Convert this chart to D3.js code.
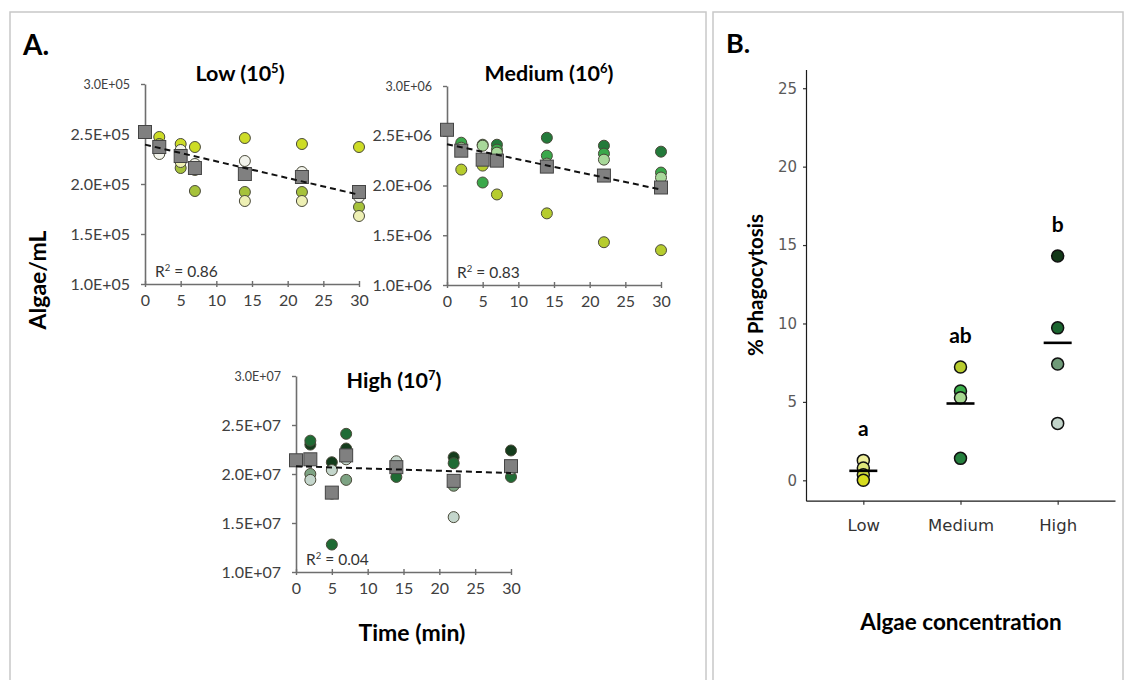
<!DOCTYPE html>
<html>
<head>
<meta charset="utf-8">
<script src="https://cdn.jsdelivr.net/npm/d3@7"></script>
<style>
	body { margin: 0; background: #fff; }
	text { font-family: Lato, "Open Sans", sans-serif; }
</style>
</head>
<body>
<script>

let width = 1125;
let height = 680;

// Sampling times (min)
let times = [0, 2, 5, 7, 14, 22, 30];
let repTimes = [2, 5, 7, 14, 22, 30];

// Low (10^5) algae/mL
let lowMeans = [2.52e5, 2.37e5, 2.28e5, 2.16e5, 2.10e5, 2.07e5, 1.92e5];
let lowRep1 = [2.47e5, 2.40e5, 2.37e5, 2.46e5, 2.40e5, 2.37e5];
let lowRep2 = [2.40e5, 2.16e5, 1.93e5, 1.92e5, 1.92e5, 1.77e5];
let lowRep3 = [2.33e5, 2.22e5, 2.14e5, 1.83e5, 1.83e5, 1.68e5];
let lowRep4 = [2.30e5, 2.34e5, 2.20e5, 2.23e5, 2.12e5, 1.87e5];

// Medium (10^6) algae/mL
let medMeans = [2.56e6, 2.35e6, 2.26e6, 2.25e6, 2.19e6, 2.10e6, 1.98e6];
let medRep1 = [2.41e6, 2.41e6, 2.41e6, 2.48e6, 2.40e6, 2.34e6];
let medRep2 = [2.43e6, 2.03e6, 2.36e6, 2.30e6, 2.32e6, 2.13e6];
let medRep3 = [2.38e6, 2.40e6, 2.33e6, 2.22e6, 2.26e6, 2.08e6];
let medRep4 = [2.16e6, 2.20e6, 1.91e6, 1.72e6, 1.43e6, 1.35e6];

// High (10^7) algae/mL
let highMeans = [2.14e7, 2.15e7, 1.81e7, 2.19e7, 2.07e7, 1.93e7, 2.08e7];
let highRep1 = [2.30e7, 2.12e7, 2.26e7, 2.10e7, 2.17e7, 2.24e7];
let highRep2 = [2.34e7, 1.28e7, 2.41e7, 1.97e7, 2.11e7, 1.97e7];
let highRep3 = [2.00e7, 1.80e7, 1.94e7, 2.08e7, 1.88e7, 2.06e7];
let highRep4 = [1.94e7, 2.04e7, 2.15e7, 2.13e7, 1.56e7, 2.05e7];

let rSquared = ["0.86", "0.83", "0.04"];

// Panel B: % phagocytosis per replicate
let groups = ["Low", "Medium", "High"];
let phagoLow = [1.27, 0.79, 0.36, 0.0];
let phagoMedium = [7.23, 5.70, 5.26, 1.40];
let phagoHigh = [14.3, 9.72, 7.41, 3.63];
let letters = ["a", "ab", "b"];

// Colours
let lowColors = ["#cddc26", "#a6c23a", "#eef0b4", "#f3f4ec"];
let medColors = ["#237a3a", "#3aa84a", "#a8d89a", "#b6cc2e"];
let highColors = ["#143c1c", "#1f6b34", "#7da383", "#c4d6cc"];

let svg = d3.select("body")
	.append("svg")
		.attr("width", width)
		.attr("height", height);

svg.append("rect").attr("width", width).attr("height", height).style("fill", "#fff");

// Frames
svg.append("rect")
	.attr("x", 10).attr("y", 12).attr("width", 696).attr("height", 690)
	.style("fill", "none").style("stroke", "#c8c8c8").style("stroke-width", 1.5);
svg.append("rect")
	.attr("x", 713).attr("y", 12).attr("width", 410).attr("height", 690)
	.style("fill", "none").style("stroke", "#c8c8c8").style("stroke-width", 1.5);

svg.append("text").attr("x", 23).attr("y", 55)
	.style("font-size", "28px").style("font-weight", 700).text("A.");
svg.append("text").attr("x", 726).attr("y", 53)
	.style("font-size", "27px").style("font-weight", 700).text("B.");

function sci(v) {
	let e = Math.floor(Math.log10(v) + 1e-9);
	let m = v / Math.pow(10, e);
	return m.toFixed(1) + "E+" + String(e).padStart(2, "0");
}

let panels = [
	{title: "Low (10", exp: 5, means: lowMeans, reps: [lowRep1, lowRep2, lowRep3, lowRep4], colors: lowColors, r2: rSquared[0],
		x0: 145, x1: 359, yb: 284, yt: 84, tx: 240, ty: 81},
	{title: "Medium (10", exp: 6, means: medMeans, reps: [medRep1, medRep2, medRep3, medRep4], colors: medColors, r2: rSquared[1],
		x0: 447, x1: 661, yb: 285, yt: 86, tx: 549, ty: 81},
	{title: "High (10", exp: 7, means: highMeans, reps: [highRep1, highRep2, highRep3, highRep4], colors: highColors, r2: rSquared[2],
		x0: 296, x1: 511, yb: 572, yt: 376, tx: 394, ty: 388}
];

panels.forEach((p) => {
	let base = Math.pow(10, p.exp);
	let xScale = d3.scaleLinear().domain([0, 30]).range([p.x0, p.x1]);
	let yScale = d3.scaleLinear().domain([1 * base, 3 * base]).range([p.yb, p.yt]);

	let g = svg.append("g");

	// Title
	let t = g.append("text")
		.attr("x", p.tx).attr("y", p.ty)
		.attr("text-anchor", "middle")
		.style("font-size", "21.5px").style("font-weight", 700);
	t.append("tspan").text(p.title);
	t.append("tspan").attr("dy", -8).style("font-size", "13px").text(p.exp);
	t.append("tspan").attr("dy", 8).text(")");

	// y axis
	let yAxis = d3.axisLeft(yScale)
		.tickValues([1, 1.5, 2, 2.5, 3].map(v => v * base))
		.tickFormat(sci)
		.tickSize(4).tickSizeOuter(0).tickPadding(11);
	let ya = g.append("g")
		.attr("transform", "translate(" + p.x0 + ",0)")
		.call(yAxis);

	// x axis
	let xAxis = d3.axisBottom(xScale)
		.tickValues([0, 5, 10, 15, 20, 25, 30])
		.tickSize(3).tickSizeOuter(0).tickPadding(8);
	let xa = g.append("g")
		.attr("transform", "translate(0," + p.yb + ")")
		.call(xAxis);
	xa.selectAll(".tick line").attr("y1", -3);

	[ya, xa].forEach(a => {
		a.select(".domain").style("stroke", "#6e6e6e").style("stroke-width", 1.6);
		a.selectAll(".tick line").style("stroke", "#6e6e6e").style("stroke-width", 1.4);
		a.selectAll("text").style("fill", "#404040").style("font-family", "Lato, sans-serif");
	});
	ya.selectAll("text").style("font-size", d => d === 3 * base ? "12.5px" : "16px");
	xa.selectAll("text").style("font-size", "16px");

	// Replicate circles
	p.reps.forEach((rep, i) => {
		g.selectAll(null)
			.data(rep)
			.enter().append("circle")
			.attr("cx", (d, j) => xScale(repTimes[j]))
			.attr("cy", d => yScale(d))
			.attr("r", 5.5)
			.style("fill", p.colors[i])
			.style("stroke", "#4a4a3a")
			.style("stroke-width", 1);
	});

	// Mean squares
	let s = 13;
	g.selectAll(null)
		.data(p.means)
		.enter().append("rect")
		.attr("x", (d, j) => xScale(times[j]) - s / 2)
		.attr("y", d => yScale(d) - s / 2)
		.attr("width", s).attr("height", s)
		.style("fill", "#808080")
		.style("stroke", "#444")
		.style("stroke-width", 1);

	// Linear regression on means
	let mx = d3.mean(times);
	let my = d3.mean(p.means);
	let sxy = d3.sum(times, (x, j) => (x - mx) * (p.means[j] - my));
	let sxx = d3.sum(times, x => (x - mx) * (x - mx));
	let slope = sxy / sxx;
	let icpt = my - slope * mx;
	let line = d3.line()
		.x(d => xScale(d))
		.y(d => yScale(icpt + slope * d));
	g.append("path")
		.datum([0, 30])
		.attr("d", line)
		.style("fill", "none")
		.style("stroke", "#111")
		.style("stroke-width", 2)
		.style("stroke-dasharray", "6,4");

	// R2 label
	let r = g.append("text")
		.attr("x", p.x0 + 10).attr("y", p.yb - 7)
		.style("font-size", "15.5px").style("fill", "#333");
	r.append("tspan").text("R");
	r.append("tspan").attr("dy", -6).style("font-size", "9.5px").text("2");
	r.append("tspan").attr("dy", 6).text(" = " + p.r2);
});

svg.append("text")
	.attr("x", 412).attr("y", 641)
	.attr("text-anchor", "middle")
	.style("font-size", "23px").style("font-weight", 700)
	.text("Time (min)");

svg.append("text")
	.attr("transform", "translate(46,280) rotate(-90)")
	.attr("text-anchor", "middle")
	.style("font-size", "23px").style("font-weight", 700)
	.text("Algae/mL");

// ---- Panel B ----
let bx = d3.scalePoint().domain(groups).range([806, 1115]).padding(0.59);
let by = d3.scaleLinear().domain([-1.3, 26.2]).range([500.7, 69.4]);

let bYAxis = d3.axisLeft(by).tickValues([0, 5, 10, 15, 20, 25]).tickSize(3).tickSizeOuter(0).tickPadding(6);
let bXAxis = d3.axisBottom(bx).tickSize(4).tickSizeOuter(0).tickPadding(15);

let bya = svg.append("g").attr("transform", "translate(806,0)").call(bYAxis);
let bxa = svg.append("g").attr("transform", "translate(0,500.7)").call(bXAxis);

[bya, bxa].forEach(a => {
	a.select(".domain").style("stroke", "#1a1a1a").style("stroke-width", 1.2);
	a.selectAll(".tick line").style("stroke", "#333").style("stroke-width", 1.2);
	a.selectAll("text").style("font-family", "'DejaVu Sans', sans-serif");
});
bya.selectAll("text").style("font-size", "15px").style("fill", "#5a5a5a");
bxa.selectAll("text").style("font-size", "16.5px").style("fill", "#333");

let phago = [phagoLow, phagoMedium, phagoHigh];
let phagoColors = [
	["#eeee9a", "#dfe67a", "#d0dc40", "#d6dc1e"],
	["#b8cc2e", "#3bae4a", "#a6d890", "#25803e"],
	["#123818", "#1b6630", "#6f9a78", "#c2d4ca"]
];

phago.forEach((vals, i) => {
	let cx = bx(groups[i]);
	svg.selectAll(null)
		.data(vals)
		.enter().append("circle")
		.attr("cx", cx)
		.attr("cy", d => by(d))
		.attr("r", 6)
		.style("fill", (d, j) => phagoColors[i][j])
		.style("stroke", "#111")
		.style("stroke-width", 1.5);

	svg.append("line")
		.attr("x1", cx - 14).attr("x2", cx + 14)
		.attr("y1", by(d3.mean(vals))).attr("y2", by(d3.mean(vals)))
		.style("stroke", "#000").style("stroke-width", 2.6);

	svg.append("text")
		.attr("x", cx).attr("y", by(d3.max(vals) + 2) + 7)
		.attr("text-anchor", "middle")
		.style("font-size", "21px").style("font-weight", 700)
		.text(letters[i]);
});

svg.append("text")
	.attr("transform", "translate(763,285) rotate(-90)")
	.attr("text-anchor", "middle")
	.style("font-size", "20.5px").style("font-weight", 700)
	.text("% Phagocytosis");

svg.append("text")
	.attr("x", 961).attr("y", 630)
	.attr("text-anchor", "middle")
	.style("font-size", "22.5px").style("font-weight", 700)
	.text("Algae concentration");

</script>
</body>
</html>
